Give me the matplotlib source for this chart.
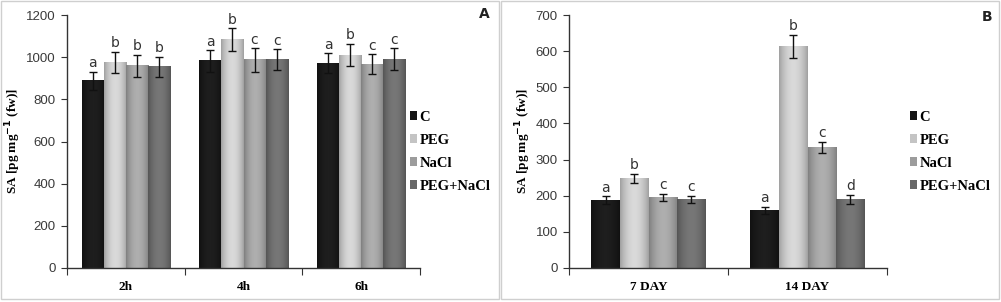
import numpy as np
import matplotlib
matplotlib.use("Agg")
import matplotlib.pyplot as plt
from matplotlib.patches import Rectangle
from matplotlib.colors import to_rgb

# ---- data ----
series = ["C", "PEG", "NaCl", "PEG+NaCl"]
colors = ["#151515", "#c4c4c4", "#9c9c9c", "#686868"]

cats_a = ["2h", "4h", "6h"]
vals_a = {
    "C":        [887, 982, 971],
    "PEG":      [976, 1082, 1010],
    "NaCl":     [960, 987, 966],
    "PEG+NaCl": [955, 987, 990],
}
errs_a = {
    "C":        [45, 50, 47],
    "PEG":      [50, 55, 52],
    "NaCl":     [52, 55, 48],
    "PEG+NaCl": [48, 50, 52],
}
letters_a = {
    "C":        ["a", "a", "a"],
    "PEG":      ["b", "b", "b"],
    "NaCl":     ["b", "c", "c"],
    "PEG+NaCl": ["b", "c", "c"],
}

cats_b = ["7 DAY", "14 DAY"]
vals_b = {
    "C":        [188, 160],
    "PEG":      [248, 614],
    "NaCl":     [195, 333],
    "PEG+NaCl": [190, 190],
}
errs_b = {
    "C":        [10, 10],
    "PEG":      [12, 32],
    "NaCl":     [11, 15],
    "PEG+NaCl": [10, 12],
}
letters_b = {
    "C":        ["a", "a"],
    "PEG":      ["b", "b"],
    "NaCl":     ["c", "c"],
    "PEG+NaCl": ["c", "d"],
}

W, H = 1001, 302
fig = plt.figure(figsize=(W / 100, H / 100), dpi=100)
fig.patch.set_facecolor("white")

def fx(px):
    return px / W

def fy(py):
    return 1 - py / H

# panel borders
for x0, x1 in [(1, 499), (501, 999)]:
    fig.add_artist(Rectangle((fx(x0), fy(299)), fx(x1 - x0), (298) / H,
                             transform=fig.transFigure, fill=False,
                             edgecolor="#cfcfcf", linewidth=1.0))

def shaded_bar(ax, x, w, h, color):
    base = np.array(to_rgb(color))
    t = np.linspace(0, 1, 40)
    m = 0.82 + 0.25 * np.sin(np.pi * t) ** 0.8
    rgb = np.clip(base[None, :] * m[:, None] + 0.03 * np.sin(np.pi * t)[:, None], 0, 1)
    img = np.repeat(rgb[None, :, :], 2, axis=0)
    ax.imshow(img, extent=[x - w / 2, x + w / 2, 0, h], aspect="auto",
              interpolation="bilinear", zorder=2)

def draw_panel(ax, cats, vals, errs, letters, ymax, ystep, group_frac, letter_pad):
    n = len(series)
    w = group_frac / n
    xs = np.arange(len(cats))
    for i, s in enumerate(series):
        pos = xs - group_frac / 2 + w * (i + 0.5)
        ax.bar(pos, vals[s], width=w, color=colors[i], label=s, zorder=1,
               linewidth=0)
        for p, v in zip(pos, vals[s]):
            shaded_bar(ax, p, w, v, colors[i])
        ax.errorbar(pos, vals[s], yerr=errs[s], fmt="none", ecolor="#111111",
                    elinewidth=1.0, capsize=3, capthick=1.0, zorder=3)
        for p, v, e, l in zip(pos, vals[s], errs[s], letters[s]):
            ax.text(p, v + e + letter_pad, l, ha="center", va="bottom",
                    fontsize=10, color="#333333", family="DejaVu Sans", zorder=4)
    ax.set_xlim(-0.5, len(cats) - 0.5)
    ax.set_ylim(0, ymax)
    ax.set_yticks(np.arange(0, ymax + 1, ystep))
    ax.set_xticks(np.arange(-0.5, len(cats), 1.0))
    ax.set_xticklabels([])
    ax.set_xticks(xs, minor=True)
    ax.set_xticklabels(cats, minor=True, family="Liberation Serif",
                       fontweight="bold", fontsize=9.5)
    ax.tick_params(axis="x", which="minor", length=0, pad=9)
    ax.tick_params(axis="x", which="major", length=5, direction="out",
                   color="#333333")
    ax.tick_params(axis="y", length=4, direction="out", color="#333333",
                   labelsize=9.5, labelcolor="#3a3a3a", pad=4)
    for lab in ax.get_yticklabels():
        lab.set_family("Liberation Sans")
    for side in ["top", "right"]:
        ax.spines[side].set_visible(False)
    for side in ["left", "bottom"]:
        ax.spines[side].set_color("#333333")
        ax.spines[side].set_linewidth(1.0)
    ax.set_ylabel("SA [pg mg$^{\\mathbf{-1}}$ (fw)]", family="Liberation Serif",
                  fontweight="bold", fontsize=9.5, labelpad=2)
    ax.set_facecolor("none")

ax_a = fig.add_axes([fx(67), fy(268), fx(420 - 67), (268 - 15) / H])
draw_panel(ax_a, cats_a, vals_a, errs_a, letters_a, 1200, 200, 0.75, 8)

ax_b = fig.add_axes([fx(569), fy(268), fx(887 - 569), (268 - 15) / H])
draw_panel(ax_b, cats_b, vals_b, errs_b, letters_b, 700, 100, 0.72, 5)

for ax, lx in [(ax_a, 404), (ax_b, 904)]:
    h, l = ax.get_legend_handles_labels()
    fig.legend(h, l, loc="upper left", bbox_to_anchor=(fx(lx), fy(105)),
               bbox_transform=fig.transFigure, frameon=False,
               prop={"family": "Liberation Serif", "weight": "bold", "size": 10.5},
               handlelength=0.5, handleheight=0.5, handletextpad=0.15,
               labelspacing=0.68, borderaxespad=0)

fig.text(fx(484), fy(14), "A", ha="center", va="center", fontsize=10,
         fontweight="bold", family="DejaVu Sans", color="#222222")
fig.text(fx(987), fy(17), "B", ha="center", va="center", fontsize=10,
         fontweight="bold", family="DejaVu Sans", color="#222222")

fig.savefig("out.png", dpi=100, facecolor="white")
